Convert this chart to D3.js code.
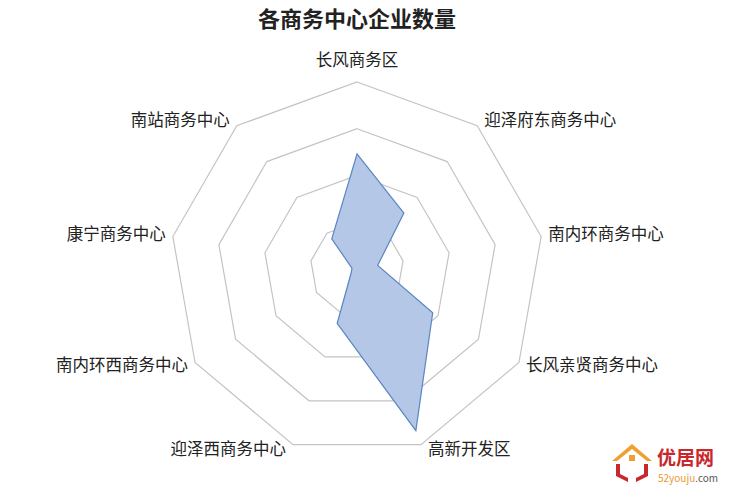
<!DOCTYPE html>
<html>
<head>
<meta charset="utf-8">
<script src="https://cdn.jsdelivr.net/npm/d3@7"></script>
<style>
  html, body { margin: 0; padding: 0; background: #ffffff; }
  svg { display: block; }
  text { font-family: "Noto Sans CJK SC", "Noto Sans", sans-serif; }
</style>
</head>
<body>
<svg id="chart" width="746" height="494"></svg>
<script>
// ---- data ----
const categories = ["长风商务区", "迎泽府东商务中心", "南内环商务中心", "长风亲贤商务中心", "高新开发区",
                    "迎泽西商务中心", "南内环西商务中心", "康宁商务中心", "南站商务中心"];
const values = [246, 156, 45, 187, 368, 124, 14, 11, 84];
const ringTicks = [100, 200, 300, 400];
const title = "各商务中心企业数量";

// ---- layout ----
const W = 746, H = 494;
const cx = 357, cy = 269, R = 187;
const svg = d3.select("#chart");

const r = d3.scaleLinear().domain([0, 400]).range([0, R]);
const angle = d3.scalePoint().domain(categories).range([0, 2 * Math.PI * (categories.length - 1) / categories.length]);
const pt = (cat, v) => {
  const a = angle(cat);
  return [cx + r(v) * Math.sin(a), cy - r(v) * Math.cos(a)];
};

// title
svg.append("text").attr("x", cx).attr("y", 27).attr("text-anchor", "middle")
  .attr("font-size", 22).attr("font-weight", "bold").attr("fill", "#222").text(title);

// grid rings
const g = svg.append("g");
ringTicks.forEach(t => {
  g.append("polygon")
    .attr("points", categories.map(c => pt(c, t).join(",")).join(" "))
    .attr("fill", "none").attr("stroke", "#c4c4c4").attr("stroke-width", 1.2);
});

// data polygon
g.append("polygon")
  .attr("points", categories.map((c, i) => pt(c, values[i]).join(",")).join(" "))
  .attr("fill", "#b4c7e7").attr("stroke", "#5a86c2").attr("stroke-width", 1.2)
  .attr("stroke-linejoin", "miter");

// category labels
const maxT = ringTicks[ringTicks.length - 1];
categories.forEach(c => {
  const a = angle(c);
  const [vx, vy] = pt(c, maxT);
  const s = Math.sin(a), co = Math.cos(a);
  let x, y, anchor;
  if (Math.abs(s) < 0.01) {
    x = vx; y = vy - 16; anchor = "middle";
  } else {
    anchor = s > 0 ? "start" : "end";
    x = vx + (s > 0 ? 7 : -7);
    y = vy - 6 * co + 5;
  }
  svg.append("text").attr("x", x).attr("y", y).attr("text-anchor", anchor)
    .attr("font-size", 16.5).attr("fill", "#222").text(c);
});

// logo watermark (bottom right)
const logo = svg.append("g");
logo.append("path").attr("d", "M612,461 L632,444 L652,461 L647,461 L632,449 L617,461 Z").attr("fill", "#f0a030");
logo.append("rect").attr("x", 629).attr("y", 455).attr("width", 6).attr("height", 6).attr("fill", "#f0a030");
logo.append("path").attr("d", "M616,464 L620,464 L620,474 L628,478 L628,482 L616,476 Z").attr("fill", "#c8282d");
logo.append("path").attr("d", "M648,464 L644,464 L644,474 L636,478 L636,482 L648,476 Z").attr("fill", "#c8282d");
logo.append("text").attr("x", 657).attr("y", 465).attr("font-size", 19).attr("font-weight", "bold")
  .attr("fill", "#c8282d").text("优居网");
const sub = logo.append("text").attr("x", 658).attr("y", 482).attr("font-size", 10).attr("font-family", "Arial, Liberation Sans, sans-serif");
sub.append("tspan").attr("fill", "#e89a30").text("52youju");
sub.append("tspan").attr("fill", "#555").text(".com");
</script>
</body>
</html>
